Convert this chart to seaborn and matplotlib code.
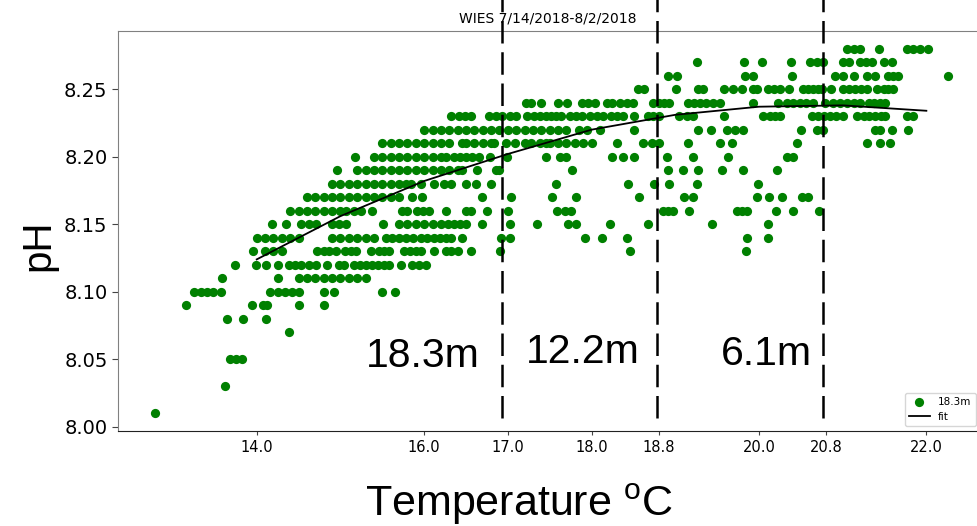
import numpy as np
import pandas as pd
import matplotlib
matplotlib.use("Agg")
import matplotlib.pyplot as plt
import seaborn as sns

# ---- data: temperatures (deg C) observed at each pH level ----
t_828 = [21.05, 21.13, 21.21, 21.43, 21.77, 21.84, 21.92, 22.02]
t_827 = [19.26, 19.82, 20.04, 20.38, 20.61, 20.69, 20.77, 21.00, 21.07, 21.21, 21.28, 21.35, 21.49, 21.59]
t_826 = [18.91, 19.02, 19.83, 19.93, 20.40, 20.91, 21.01, 21.13, 21.29, 21.39, 21.54, 21.60, 21.66, 22.26]
t_825 = [18.55, 18.63, 19.01, 19.27, 19.33, 19.58, 19.69, 19.80, 19.93, 19.98, 20.11, 20.18, 20.25, 20.36,
         20.53, 20.59, 20.65, 20.71, 20.75, 20.86, 21.01, 21.08, 21.15, 21.22, 21.29, 21.41, 21.49, 21.54, 21.60]
t_824 = [17.22, 17.28, 17.40, 17.60, 17.71, 17.89, 17.96, 18.04, 18.18, 18.25, 18.34, 18.42, 18.49, 18.73,
         18.80, 18.87, 18.93, 19.15, 19.22, 19.29, 19.37, 19.45, 19.53, 19.93, 20.23, 20.34, 20.41, 20.49,
         20.56, 20.65, 20.79, 20.89, 20.97, 21.05, 21.13, 21.21, 21.31, 21.38, 21.45, 21.51]
t_823 = [16.32, 16.42, 16.49, 16.56, 16.78, 16.86, 16.93, 17.02, 17.10, 17.23, 17.31, 17.38, 17.45, 17.52,
         17.58, 17.64, 17.74, 17.82, 17.89, 17.98, 18.06, 18.14, 18.23, 18.30, 18.37, 18.51, 18.67, 18.74,
         18.81, 19.05, 19.14, 19.21, 19.58, 20.05, 20.13, 20.19, 20.25, 20.63, 20.71, 20.78, 20.85, 20.92,
         21.01, 21.17, 21.25, 21.31, 21.39, 21.46, 21.51, 21.77, 21.84]
t_822 = [16.00, 16.10, 16.20, 16.30, 16.40, 16.50, 16.60, 16.70, 16.80, 16.90, 17.00, 17.10, 17.20, 17.30,
         17.40, 17.50, 17.60, 17.70, 17.85, 17.95, 18.10, 18.51, 19.27, 19.43, 19.62, 19.71, 19.81, 20.50,
         20.69, 20.77, 21.39, 21.45, 21.59, 21.78]
t_821 = [15.50, 15.60, 15.70, 15.80, 15.90, 16.00, 16.10, 16.20, 16.30, 16.45, 16.50, 16.60, 16.70, 16.80,
         16.84, 16.98, 17.08, 17.20, 17.28, 17.38, 17.45, 17.50, 17.60, 17.70, 17.80, 17.90, 18.00, 18.30,
         18.61, 18.72, 18.81, 19.15, 19.53, 19.68, 20.46, 21.29, 21.45, 21.57]
t_820 = [15.17, 15.40, 15.50, 15.60, 15.70, 15.80, 15.90, 16.00, 16.10, 16.20, 16.26, 16.36, 16.43, 16.50,
         16.57, 16.66, 16.79, 16.99, 17.45, 17.62, 17.70, 18.25, 18.37, 18.51, 18.90, 19.21, 19.63, 20.34, 20.41]
t_819 = [14.96, 15.20, 15.30, 15.40, 15.50, 15.60, 15.70, 15.80, 15.90, 16.00, 16.10, 16.20, 16.30, 16.40,
         16.45, 16.63, 16.86, 16.90, 17.77, 18.91, 19.09, 19.27, 19.56, 19.81, 20.22]
t_818 = [14.90, 15.00, 15.10, 15.20, 15.30, 15.40, 15.50, 15.60, 15.70, 15.78, 15.84, 15.96, 16.12, 16.24,
         16.32, 16.50, 16.62, 16.80, 17.58, 18.43, 18.75, 18.92, 19.26, 19.99]
t_817 = [14.60, 14.70, 14.80, 14.90, 15.00, 15.10, 15.20, 15.30, 15.40, 15.50, 15.60, 15.70, 15.86, 15.98,
         16.69, 17.04, 17.53, 17.82, 18.57, 19.11, 19.21, 19.98, 20.12, 20.28, 20.51, 20.59]
t_816 = [14.40, 14.50, 14.60, 14.70, 14.80, 14.90, 15.00, 15.07, 15.16, 15.25, 15.38, 15.74, 15.80, 15.92,
         15.99, 16.06, 16.26, 16.50, 16.56, 16.75, 17.00, 17.59, 17.68, 17.76, 18.85, 18.91, 18.97, 19.17,
         19.74, 19.80, 19.86, 20.20, 20.41, 20.72]
t_815 = [14.18, 14.35, 14.53, 14.62, 14.71, 14.90, 14.98, 15.07, 15.51, 15.70, 15.80, 15.90, 16.00, 16.10,
         16.20, 16.28, 16.36, 16.43, 16.50, 16.69, 17.02, 17.35, 17.72, 17.82, 18.22, 18.67, 19.44, 20.11]
t_814 = [14.00, 14.10, 14.20, 14.30, 14.40, 14.50, 14.90, 15.00, 15.10, 15.20, 15.30, 15.40, 15.55, 15.62,
         15.70, 15.78, 15.87, 15.96, 16.04, 16.12, 16.19, 16.26, 16.32, 16.45, 16.92, 17.03, 17.92, 18.12,
         18.42, 19.86, 20.11]
t_813 = [13.96, 14.10, 14.20, 14.30, 14.72, 14.80, 14.86, 14.95, 15.05, 15.13, 15.19, 15.37, 15.46, 15.52,
         15.58, 15.76, 15.83, 15.90, 15.96, 16.12, 16.26, 16.32, 16.40, 16.56, 16.91, 18.46, 19.84]
t_812 = [13.74, 13.99, 14.11, 14.25, 14.38, 14.46, 14.53, 14.62, 14.71, 14.84, 14.98, 15.04, 15.16, 15.23,
         15.31, 15.38, 15.45, 15.52, 15.58, 15.72, 15.86, 15.94, 16.02]
t_811 = [13.59, 14.26, 14.50, 14.60, 14.70, 14.80, 14.90, 15.00, 15.10, 15.20, 15.30]
t_810 = [13.25, 13.33, 13.41, 13.48, 13.57, 14.16, 14.25, 14.34, 14.42, 14.50, 14.80, 14.92, 15.50, 15.65]
t_809 = [13.16, 13.94, 14.08, 14.12, 14.50, 14.80]
t_808 = [13.64, 13.84, 14.11]
t_807 = [14.39]
t_805 = [13.68, 13.75, 13.82]
t_803 = [13.62]
t_801 = [12.79]

ph_levels = [8.28, 8.27, 8.26, 8.25, 8.24, 8.23, 8.22, 8.21, 8.20, 8.19, 8.18, 8.17, 8.16, 8.15,
             8.14, 8.13, 8.12, 8.11, 8.10, 8.09, 8.08, 8.07, 8.05, 8.03, 8.01]
temp_rows = [t_828, t_827, t_826, t_825, t_824, t_823, t_822, t_821, t_820, t_819, t_818, t_817, t_816,
             t_815, t_814, t_813, t_812, t_811, t_810, t_809, t_808, t_807, t_805, t_803, t_801]

# fitted curve
fit_temp = [14.0, 15.0, 16.0, 17.0, 18.0, 19.0, 20.0, 21.0, 22.0]
fit_ph = [8.124, 8.156, 8.182, 8.202, 8.220, 8.231, 8.237, 8.238, 8.234]

# depth zone boundaries and labels
zone_bounds = [16.93, 18.78, 20.77]
zone_labels = ["18.3m", "12.2m", "6.1m"]

xtick_vals = [14.0, 16.0, 17.0, 18.0, 18.8, 20.0, 20.8, 22.0]
ytick_vals = [8.00, 8.05, 8.10, 8.15, 8.20, 8.25]

rows = []
for p, ts in zip(ph_levels, temp_rows):
    for t in ts:
        rows.append((t, p))
df = pd.DataFrame(rows, columns=["temp", "ph"])
fit_df = pd.DataFrame({"temp": fit_temp, "ph": fit_ph})

plt.rcParams["mathtext.fontset"] = "custom"
plt.rcParams["mathtext.rm"] = "Liberation Sans"
plt.rcParams["mathtext.it"] = "Liberation Sans"

fig = plt.figure(figsize=(9.77, 5.26), dpi=100)
ax = fig.add_axes([0.1208, 0.1806, 0.8792, 0.7604])

sns.scatterplot(data=df, x="temp", y="ph", color="green", s=44, linewidth=0,
                ax=ax, label="18.3m", zorder=2)
sns.lineplot(data=fit_df, x="temp", y="ph", color="black", linewidth=1.3,
             ax=ax, label="fit", zorder=3)

ax.set_xlim(12.343, 22.605)
ax.set_ylim(7.997, 8.293)

for xb in zone_bounds:
    ax.axvline(xb, ymin=0.0325, ymax=1.08, color="black", linewidth=1.8,
               linestyle=(0, (9, 3.5)), clip_on=False, zorder=4)

label_pos = [(15.31, 8.0444), (17.215, 8.0473), (19.545, 8.0459)]
for (lx, ly), lab in zip(label_pos, zone_labels):
    ax.text(lx, ly, lab, fontsize=29.5, family="Liberation Sans", ha="left", va="baseline")

ax.set_xticks(xtick_vals)
ax.set_xticklabels([f"{v:.1f}" for v in xtick_vals], fontsize=10.5)
ax.set_yticks(ytick_vals)
ax.set_yticklabels([f"{v:.2f}" for v in ytick_vals], fontsize=14)
ax.tick_params(axis="x", length=3, color="#444444")
ax.tick_params(axis="y", length=4, color="#444444")

ax.set_title("WIES 7/14/2018-8/2/2018", fontsize=10, pad=6)
ax.set_ylabel("pH", fontsize=29, family="Liberation Sans")
ax.yaxis.set_label_coords(-0.071, 0.465)
ax.set_xlabel("Temperature $^{\\mathrm{o}}$C", fontsize=31, family="Liberation Sans")
ax.xaxis.set_label_coords((519 - 118) / 859, (431 - 516) / 400)
ax.xaxis.label.set_va("baseline")

for side in ["top", "left"]:
    ax.spines[side].set_color("#808080")
ax.spines["bottom"].set_color("#222222")
ax.spines["right"].set_visible(False)

leg = ax.legend(loc="lower left", bbox_to_anchor=(0.916, 0.012), fontsize=7.5,
                frameon=True, borderaxespad=0)

fig.savefig("out.png", dpi=100)
